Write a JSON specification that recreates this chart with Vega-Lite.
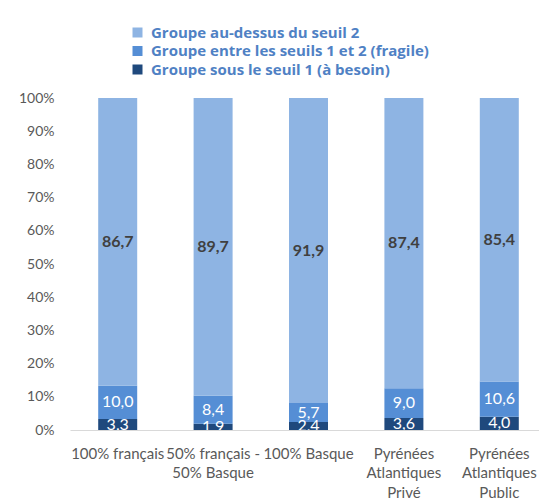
{
  "$schema": "https://vega.github.io/schema/vega-lite/v6.json",
  "autosize": {"type": "none"},
  "padding": {"left": 70, "top": 98, "right": 0, "bottom": 73},
  "width": 477,
  "height": 332,
  "background": "white",
  "config": {
    "font": "Lato",
    "view": {"stroke": null},
    "locale": {
      "number": {"decimal": ",", "thousands": " ", "grouping": [3], "currency": ["", " €"]}
    }
  },
  "data": {
    "values": [
      {"cat": "100% français", "groupe": "Groupe sous le seuil 1 (à besoin)", "ord": 1, "val": 3.3},
      {"cat": "100% français", "groupe": "Groupe entre les seuils 1 et 2 (fragile)", "ord": 2, "val": 10.0},
      {"cat": "100% français", "groupe": "Groupe au-dessus du seuil 2", "ord": 3, "val": 86.7},
      {"cat": "50% français - 50% Basque", "groupe": "Groupe sous le seuil 1 (à besoin)", "ord": 1, "val": 1.9},
      {"cat": "50% français - 50% Basque", "groupe": "Groupe entre les seuils 1 et 2 (fragile)", "ord": 2, "val": 8.4},
      {"cat": "50% français - 50% Basque", "groupe": "Groupe au-dessus du seuil 2", "ord": 3, "val": 89.7},
      {"cat": "100% Basque", "groupe": "Groupe sous le seuil 1 (à besoin)", "ord": 1, "val": 2.4},
      {"cat": "100% Basque", "groupe": "Groupe entre les seuils 1 et 2 (fragile)", "ord": 2, "val": 5.7},
      {"cat": "100% Basque", "groupe": "Groupe au-dessus du seuil 2", "ord": 3, "val": 91.9},
      {"cat": "Pyrénées Atlantiques Privé", "groupe": "Groupe sous le seuil 1 (à besoin)", "ord": 1, "val": 3.6},
      {"cat": "Pyrénées Atlantiques Privé", "groupe": "Groupe entre les seuils 1 et 2 (fragile)", "ord": 2, "val": 9.0},
      {"cat": "Pyrénées Atlantiques Privé", "groupe": "Groupe au-dessus du seuil 2", "ord": 3, "val": 87.4},
      {"cat": "Pyrénées Atlantiques Public", "groupe": "Groupe sous le seuil 1 (à besoin)", "ord": 1, "val": 4.0},
      {"cat": "Pyrénées Atlantiques Public", "groupe": "Groupe entre les seuils 1 et 2 (fragile)", "ord": 2, "val": 10.6},
      {"cat": "Pyrénées Atlantiques Public", "groupe": "Groupe au-dessus du seuil 2", "ord": 3, "val": 85.4}
    ]
  },
  "encoding": {
    "x": {
      "field": "cat", "type": "nominal", "sort": null,
      "scale": {"paddingInner": 0, "paddingOuter": 0},
      "axis": {
        "title": null, "labelAngle": 0, "ticks": false,
        "domainColor": "#D9D9D9", "domainWidth": 1,
        "labelFont": "Lato", "labelFontSize": 15, "labelColor": "#595959",
        "labelPadding": 16, "labelLineHeight": 19.5, "labelOverlap": false, "labelBound": false,
        "labelExpr": "datum.label == '50% français - 50% Basque' ? ['50% français -', '50% Basque'] : (indexof(datum.label, 'Pyrénées') == 0 ? split(datum.label, ' ') : datum.label)"
      }
    },
    "y": {
      "field": "val", "type": "quantitative", "stack": "zero",
      "scale": {"domain": [0, 100], "nice": false},
      "axis": {
        "title": null, "grid": false, "domain": false, "ticks": false,
        "values": [0, 10, 20, 30, 40, 50, 60, 70, 80, 90, 100],
        "labelExpr": "datum.value + '%'",
        "labelFont": "Lato", "labelFontSize": 14, "labelColor": "#595959", "labelPadding": 16
      }
    },
    "order": {"field": "ord", "type": "quantitative"}
  },
  "layer": [
    {
      "mark": {"type": "bar", "size": 39},
      "encoding": {
        "color": {
          "field": "groupe", "type": "nominal",
          "scale": {
            "domain": ["Groupe au-dessus du seuil 2", "Groupe entre les seuils 1 et 2 (fragile)", "Groupe sous le seuil 1 (à besoin)"],
            "range": ["#8EB4E3", "#558ED5", "#1F497D"]
          },
          "legend": {
            "title": null, "orient": "none", "legendX": 60, "legendY": -73,
            "direction": "vertical", "symbolType": "square", "symbolSize": 100,
            "symbolStrokeWidth": 0, "symbolOpacity": 1,
            "labelFont": "Open Sans", "labelFontSize": 15, "labelFontWeight": "bold",
            "labelColor": "#4F81C4", "rowPadding": 2.5, "labelOffset": 6,
            "labelLimit": 400
          }
        }
      }
    },
    {
      "mark": {"type": "text", "clip": true, "fontSize": 16, "color": "white", "font": "Lato"},
      "encoding": {
        "y": {"field": "val", "type": "quantitative", "stack": "zero", "bandPosition": 0.5},
        "text": {"field": "val", "type": "quantitative", "format": ".1f"},
        "opacity": {"condition": {"test": "datum.ord < 3", "value": 1}, "value": 0}
      }
    },
    {
      "mark": {"type": "text", "fontSize": 16, "fontWeight": "bold", "color": "#404040", "font": "Lato"},
      "encoding": {
        "y": {"field": "val", "type": "quantitative", "stack": "zero", "bandPosition": 0.5},
        "text": {"field": "val", "type": "quantitative", "format": ".1f"},
        "opacity": {"condition": {"test": "datum.ord == 3", "value": 1}, "value": 0}
      }
    }
  ]
}
